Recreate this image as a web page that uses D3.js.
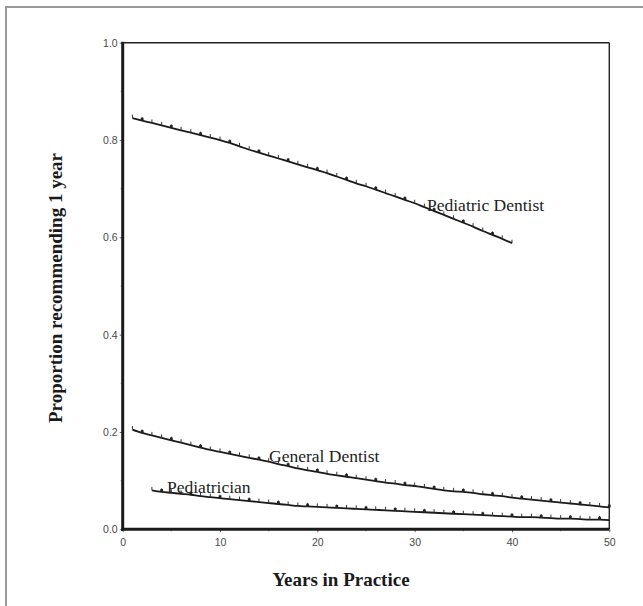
<!DOCTYPE html>
<html>
<head>
<meta charset="utf-8">
<script src="https://cdn.jsdelivr.net/npm/d3@7"></script>
<style>
  body { margin: 0; background: #fff; }
  svg { display: block; }
</style>
</head>
<body>
<div id="chart"></div>
<script>
// values
const pedDentYears = d3.range(1, 41);
const pedDentVals = [0.845,0.840,0.835,0.830,0.825,0.820,0.815,0.810,0.805,0.800,
  0.794,0.787,0.780,0.774,0.768,0.762,0.756,0.750,0.744,0.738,
  0.732,0.725,0.718,0.711,0.705,0.698,0.691,0.684,0.677,0.670,
  0.662,0.654,0.646,0.638,0.630,0.622,0.613,0.605,0.597,0.588];

const genDentYears = d3.range(1, 51);
const genDentVals = [0.205,0.198,0.193,0.188,0.183,0.178,0.173,0.168,0.163,0.159,
  0.155,0.151,0.147,0.143,0.139,0.134,0.130,0.125,0.121,0.118,
  0.114,0.111,0.108,0.105,0.102,0.099,0.096,0.094,0.091,0.089,
  0.086,0.083,0.080,0.078,0.077,0.075,0.072,0.070,0.068,0.065,
  0.063,0.061,0.059,0.057,0.055,0.053,0.051,0.049,0.047,0.045];

const pediatricianYears = d3.range(3, 51);
const pediatricianVals = [0.080,0.077,0.075,0.073,0.071,0.068,0.066,0.064,
  0.062,0.060,0.058,0.056,0.054,0.052,0.050,0.048,0.047,0.046,
  0.045,0.044,0.043,0.042,0.041,0.040,0.039,0.038,0.037,0.036,
  0.035,0.034,0.033,0.032,0.031,0.030,0.029,0.028,0.027,0.026,
  0.025,0.025,0.024,0.023,0.022,0.022,0.021,0.020,0.020,0.019];

const seriesNames = ["Pediatric Dentist", "General Dentist", "Pediatrician"];
const xTicks = [0, 10, 20, 30, 40, 50];
const yTicks = [0.0, 0.2, 0.4, 0.6, 0.8, 1.0];

const W = 643, H = 606;
const m = {left: 122.7, right: 609.3, top: 42.7, bottom: 529.3};
// label positions in pixels, tuned to the picture
const labelPos = [[427, 211], [269, 462], [167, 493]];

const svg = d3.select("#chart").append("svg").attr("width", W).attr("height", H);

// frame of the figure
svg.append("line").attr("x1", 6).attr("x2", 6).attr("y1", 6).attr("y2", H)
  .attr("stroke", "#9a9a9a").attr("stroke-width", 2);
svg.append("line").attr("x1", 5).attr("x2", W).attr("y1", 7).attr("y2", 7)
  .attr("stroke", "#9a9a9a").attr("stroke-width", 2);

const x = d3.scaleLinear().domain([0, 50]).range([m.left, m.right]);
const y = d3.scaleLinear().domain([0, 1]).range([m.bottom, m.top]);

// top and right thin borders
svg.append("line").attr("x1", x(0)).attr("x2", x(50)).attr("y1", y(1)).attr("y2", y(1))
  .attr("stroke", "#222").attr("stroke-width", 1.4);
svg.append("line").attr("x1", x(50)).attr("x2", x(50)).attr("y1", y(1)).attr("y2", y(0))
  .attr("stroke", "#222").attr("stroke-width", 1.4);

// y axis
const yAxis = svg.append("g").attr("transform", `translate(${m.left},0)`)
  .call(d3.axisLeft(y).tickValues(yTicks).tickFormat(d3.format(".1f")).tickSize(3).tickPadding(2));
yAxis.select(".domain").remove();
yAxis.selectAll("text").attr("font-family", "Liberation Sans, Arial, sans-serif")
  .attr("font-size", 10.5).attr("fill", "#484848");
yAxis.selectAll("line").attr("stroke", "#666");
svg.append("g").selectAll("line").data([0.1, 0.3, 0.5, 0.7, 0.9]).join("line")
  .attr("x1", m.left - 2).attr("x2", m.left).attr("y1", d => y(d)).attr("y2", d => y(d))
  .attr("stroke", "#888");

// x axis
const xAxis = svg.append("g").attr("transform", `translate(0,${m.bottom})`)
  .call(d3.axisBottom(x).tickValues(xTicks).tickSize(3).tickPadding(6));
xAxis.select(".domain").remove();
xAxis.selectAll("text").attr("font-family", "Liberation Sans, Arial, sans-serif")
  .attr("font-size", 10.5).attr("fill", "#484848");
xAxis.selectAll("line").attr("stroke", "#666");
svg.append("g").selectAll("line").data([5, 15, 25, 35, 45]).join("line")
  .attr("x1", d => x(d)).attr("x2", d => x(d)).attr("y1", m.bottom).attr("y2", m.bottom + 2)
  .attr("stroke", "#888");

// thick left and bottom axis lines
svg.append("line").attr("x1", x(0)).attr("x2", x(0)).attr("y1", y(1) - 1).attr("y2", y(0) + 1.5)
  .attr("stroke", "#1a1a1a").attr("stroke-width", 3);
svg.append("line").attr("x1", x(0) - 1.5).attr("x2", x(50)).attr("y1", y(0)).attr("y2", y(0))
  .attr("stroke", "#1a1a1a").attr("stroke-width", 3);

// series
const all = [
  pedDentYears.map((d, i) => ({yr: d, v: pedDentVals[i]})),
  genDentYears.map((d, i) => ({yr: d, v: genDentVals[i]})),
  pediatricianYears.map((d, i) => ({yr: d, v: pediatricianVals[i]}))
];

const line = d3.line().x(d => x(d.yr)).y(d => y(d.v)).curve(d3.curveMonotoneX);

all.forEach((s, k) => {
  const g = svg.append("g");
  g.append("path").attr("d", line(s)).attr("fill", "none")
    .attr("stroke", "#1a1a1a").attr("stroke-width", 1.8);
  // small markers: ticks above the curve, every third one a small square
  g.selectAll("line.tk").data(s).join("line").attr("class", "tk")
    .attr("x1", d => x(d.yr)).attr("x2", d => x(d.yr))
    .attr("y1", d => y(d.v)).attr("y2", d => y(d.v) - 3.5)
    .attr("stroke", "#333").attr("stroke-width", 1);
  g.selectAll("rect").data(s.filter((d, i) => i % 3 === 1)).join("rect")
    .attr("x", d => x(d.yr) - 1.4).attr("y", d => y(d.v) - 2.8)
    .attr("width", 2.8).attr("height", 2.8).attr("fill", "#222");
  g.append("text").attr("x", labelPos[k][0]).attr("y", labelPos[k][1])
    .attr("font-family", "Liberation Serif, Times New Roman, serif")
    .attr("font-size", 17.5).attr("fill", "#222").text(seriesNames[k]);
});

// axis titles
svg.append("text").attr("x", 341).attr("y", 586).attr("text-anchor", "middle")
  .attr("font-family", "Liberation Serif, Times New Roman, serif").attr("font-weight", "bold")
  .attr("font-size", 19).attr("fill", "#1a1a1a").text("Years in Practice");
svg.append("text").attr("transform", "translate(62,288) rotate(-90)").attr("text-anchor", "middle")
  .attr("font-family", "Liberation Serif, Times New Roman, serif").attr("font-weight", "bold")
  .attr("font-size", 19).attr("fill", "#1a1a1a").text("Proportion recommending 1 year");
</script>
</body>
</html>
